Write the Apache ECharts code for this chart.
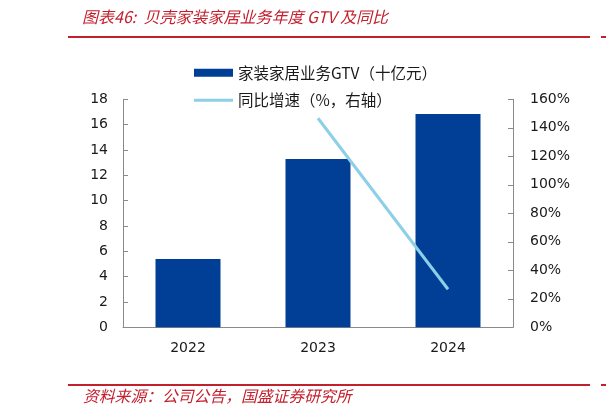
<!DOCTYPE html>
<html>
<head>
<meta charset="utf-8">
<script src="https://cdn.jsdelivr.net/npm/echarts@6/dist/echarts.min.js"></script>
<style>html,body{margin:0;padding:0;background:#fff;}#c{width:606px;height:417px;}</style>
</head>
<body>
<div id="c"></div>
<script>
var categories = ['2022', '2023', '2024'];
var gtvValues = [5.39, 13.28, 16.84];
var yoyValues = [null, 146.7, 26.7];
var leftTicks = { min: 0, max: 18, interval: 2 };
var rightTicks = { min: 0, max: 160, interval: 20 };
var titleText = '图表46:  贝壳家装家居业务年度 GTV 及同比';
var sourceText = '资料来源：公司公告，国盛证券研究所';
var barName = '家装家居业务GTV（十亿元）';
var lineName = '同比增速（%，右轴）';

var chart = echarts.init(document.getElementById('c'), null, { renderer: 'canvas' });
var red = '#C3202E';
var axisColor = '#8A8A8A';
var labelFont = { fontFamily: 'DejaVu Sans', fontSize: 14, color: '#1a1a1a' };

chart.setOption({
  animation: false,
  backgroundColor: '#fff',
  graphic: [
    { type: 'text', left: 82, top: 9, style: { text: titleText, fill: red, font: 'italic 16px "Noto Sans CJK SC"' } },
    { type: 'rect', shape: { x: 68, y: 36, width: 522, height: 2 }, style: { fill: red } },
    { type: 'rect', shape: { x: 601, y: 36, width: 5, height: 2 }, style: { fill: red } },
    { type: 'rect', shape: { x: 68, y: 384, width: 522, height: 2 }, style: { fill: red } },
    { type: 'rect', shape: { x: 601, y: 384, width: 5, height: 2 }, style: { fill: red } },
    { type: 'text', left: 83, top: 388, style: { text: sourceText, fill: red, font: 'italic 15.8px "Noto Sans CJK SC"' } }
  ],
  legend: {
    orient: 'vertical',
    left: 189,
    top: 60,
    itemWidth: 39,
    itemHeight: 8,
    itemGap: 12,
    textStyle: { fontFamily: 'Noto Sans CJK SC', fontSize: 15.5, color: '#1a1a1a' },
    data: [
      { name: barName, icon: 'rect' },
      { name: lineName, icon: 'path://M0,0 L39,0 L39,3 L0,3 Z', itemStyle: { color: '#8DCFE6' } }
    ]
  },
  grid: { left: 123, right: 93, top: 99.3, bottom: 89.7, containLabel: false },
  xAxis: {
    type: 'category',
    data: categories,
    axisLine: { lineStyle: { color: axisColor, width: 1 } },
    axisTick: { inside: true, length: 5, alignWithLabel: false, lineStyle: { color: axisColor } },
    axisLabel: Object.assign({ margin: 14 }, labelFont)
  },
  yAxis: [
    {
      type: 'value', min: leftTicks.min, max: leftTicks.max, interval: leftTicks.interval,
      splitLine: { show: false },
      axisLine: { show: true, lineStyle: { color: axisColor } },
      axisTick: { show: true, inside: true, length: 5, lineStyle: { color: axisColor } },
      axisLabel: Object.assign({ margin: 15 }, labelFont)
    },
    {
      type: 'value', min: rightTicks.min, max: rightTicks.max, interval: rightTicks.interval,
      position: 'right',
      splitLine: { show: false },
      axisLine: { show: true, lineStyle: { color: axisColor } },
      axisTick: { show: true, inside: true, length: 5, lineStyle: { color: axisColor } },
      axisLabel: Object.assign({ margin: 17, formatter: '{value}%' }, labelFont)
    }
  ],
  series: [
    {
      name: barName, type: 'bar', data: gtvValues, barWidth: '50%', yAxisIndex: 0,
      itemStyle: { color: '#003F95' }
    },
    {
      name: lineName, type: 'line', data: yoyValues, yAxisIndex: 1,
      symbol: 'none', showSymbol: false,
      lineStyle: { color: '#8DCFE6', width: 3 },
      itemStyle: { color: '#8DCFE6' }
    }
  ]
});
</script>
</body>
</html>
